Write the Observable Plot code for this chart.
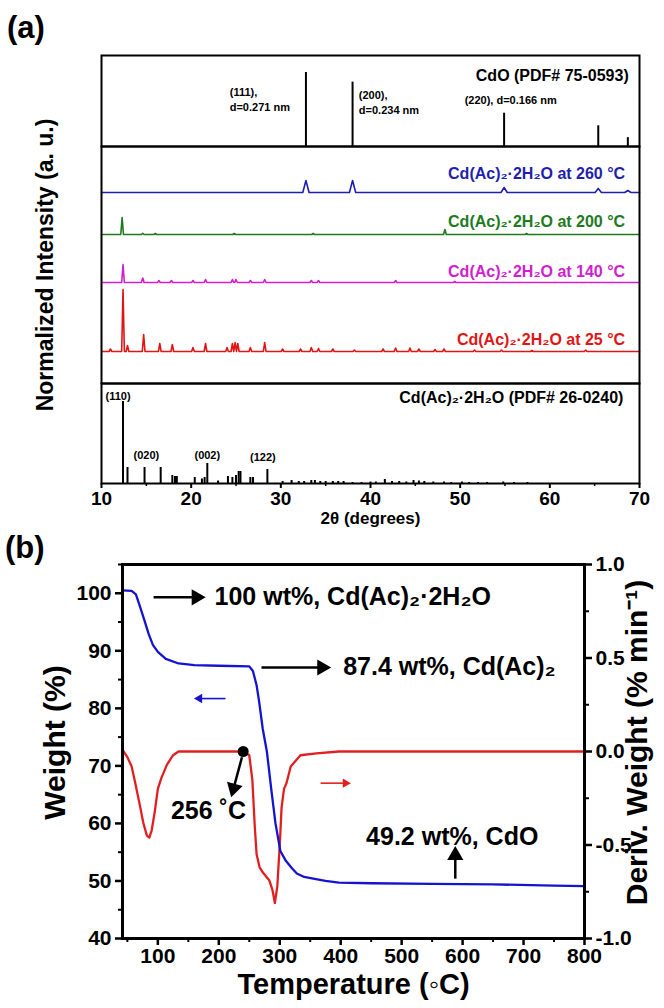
<!DOCTYPE html>
<html><head><meta charset="utf-8">
<script src="https://cdn.jsdelivr.net/npm/d3@7"></script>
<script src="https://cdn.jsdelivr.net/npm/@observablehq/plot@0.6"></script>
<style>
body{margin:0;background:#fff;}
#root{position:relative;width:664px;height:1008px;font-family:"Liberation Sans",Arial,sans-serif;font-weight:bold;overflow:hidden;}
.abs{position:absolute;left:0;}
svg{overflow:visible;}
.plab{position:absolute;font-size:31px;font-weight:bold;}
</style></head><body><div id="root"></div>
<script>
// ---------------- Panel (a): XRD ----------------
const xrdDomain = [10, 70];
const xrdTicks = [10, 20, 30, 40, 50, 60, 70];
const xrdMinor = [15, 25, 35, 45, 55, 65];

// CdO reference (PDF# 75-0593)
const cdoPos = [32.8, 38.0, 54.9, 65.4, 68.7];
const cdoInt = [100, 87, 45, 28, 12];
const cdoText = ["(111),", "d=0.271 nm", "(200),", "d=0.234 nm", "(220), d=0.166 nm"];
const cdoTextX = [24.3, 24.3, 38.7, 38.7, 50.5];
const cdoTextY = [73, 53, 69, 49, 62];
const cdoTitle = "CdO (PDF# 75-0593)";

// measured traces (peak position, height above baseline, a.u.)
const traceNames = ["Cd(Ac)₂·2H₂O at 260 °C", "Cd(Ac)₂·2H₂O at 200 °C", "Cd(Ac)₂·2H₂O at 140 °C", "Cd(Ac)₂·2H₂O at 25 °C"];
const traceColors = ["#1f1fb0", "#1e7a1e", "#d01fd0", "#e01515"];
const traceOffset = [191, 149, 101, 32];
const traceLabelY = [210, 162, 112, 44];
const peaks260Pos = [32.8, 38.0, 54.9, 65.4, 68.7];
const peaks260Int = [12, 12, 5, 4, 2];
const peaks200Pos = [12.3, 14.6, 16.0, 24.8, 33.6, 48.3, 57.4];
const peaks200Int = [17, 1.2, 1, 1, 1, 5, 1];
const peaks140Pos = [12.4, 14.6, 16.4, 17.8, 20.2, 21.6, 24.6, 25.0, 26.6, 28.2, 33.4, 34.2, 42.8, 49.4];
const peaks140Int = [18, 4.5, 2, 2, 2, 3, 3, 3, 2, 3, 2, 2, 2, 1];
const peaks25Pos = [11.0, 12.4, 12.9, 14.7, 16.5, 17.9, 20.2, 21.6, 24.0, 24.6, 24.9, 25.2, 26.6, 28.2, 30.2, 32.2, 33.4, 34.2, 35.8, 38.2, 41.4, 42.8, 44.4, 45.4, 47.2, 48.2, 51.6, 54.6, 58.0, 64.0];
const peaks25Int = [2.5, 62, 6, 17, 8, 7, 4, 8, 4, 8, 9, 8, 4, 9, 2.5, 2.5, 4, 3, 2.5, 1.5, 2.5, 3.5, 3.5, 2.5, 2, 2.5, 1.5, 1.5, 1, 1.5];

// Cd(Ac)2·2H2O reference (PDF# 26-0240)
const acPos = [12.4, 12.9, 14.8, 16.6, 17.9, 18.2, 18.4, 20.4, 21.2, 21.5, 21.8, 23.0, 24.1, 24.6, 25.0, 25.3, 25.5, 26.6, 26.9, 28.5,
  30.2, 31.2, 32.0, 32.6, 33.4, 33.8, 34.4, 35.0, 35.8, 36.4, 37.0, 38.0, 39.0, 40.0, 40.6, 41.6, 42.4, 43.2, 44.0, 44.8, 45.4, 46.0, 47.0, 48.2, 49.0, 50.2, 51.0, 52.0, 53.0, 54.8, 56.0, 57.5];
const acInt = [82, 16, 16, 16, 8, 7, 7, 6, 4.5, 6, 20, 2.5, 7, 6, 8, 12, 12, 6, 6, 14,
  2, 3, 2, 2, 3, 3, 2, 2, 2, 2, 2, 1, 1, 1.5, 1.5, 4, 2, 2, 1.5, 3, 2.5, 2, 1.5, 1.5, 1, 1.5, 1, 1, 1, 1.5, 1, 1];
const acText = ["(110)", "(020)", "(002)", "(122)"];
const acTextX = [11.85, 15.0, 21.8, 28.0];
const acTextY = [87, 28, 28, 26];
const acTitle = "Cd(Ac)₂·2H₂O (PDF# 26-0240)";

// ---------------- Panel (b): TGA / DTG ----------------
const tempDomain = [42, 800];
const tempTicks = [100, 200, 300, 400, 500, 600, 700, 800];
const tempMinor = [50, 150, 250, 350, 450, 550, 650, 750];
const weightDomain = [40, 105];
const weightTicks = [40, 50, 60, 70, 80, 90, 100];
const weightMinor = [45, 55, 65, 75, 85, 95, 105];
const derivDomain = [-1, 1];
const derivTicks = [-1, -0.5, 0, 0.5, 1];
const derivMinor = [-0.75, -0.25, 0.25, 0.75];

const tgaT = [42, 57, 64, 71, 78, 85, 92, 100, 113, 134, 160, 200, 250, 256, 262, 266, 272, 279, 286, 293, 301, 310, 320, 328, 340, 355, 375, 397, 450, 550, 650, 750, 800];
const tgaW = [100.5, 100.4, 99.8, 97.6, 95.3, 92.9, 91.0, 89.8, 88.6, 87.8, 87.5, 87.4, 87.3, 86.5, 84.0, 81.3, 76.5, 72.4, 66.0, 60.0, 55.2, 53.5, 52.2, 51.3, 50.7, 50.4, 50.0, 49.7, 49.6, 49.5, 49.4, 49.2, 49.1];

const dtgT = [42, 50, 57, 63, 70, 76, 82, 86, 90, 95, 100, 106, 115, 125, 134, 160, 200, 240, 250, 255, 259, 262, 267, 273, 283, 288, 292, 296, 300, 303, 307, 311, 318, 334, 360, 397, 450, 500, 600, 700, 800];
const dtgD = [0.01, -0.03, -0.08, -0.17, -0.28, -0.38, -0.45, -0.46, -0.42, -0.32, -0.2, -0.14, -0.07, -0.02, 0.0, 0.0, 0.0, 0.0, -0.02, -0.15, -0.4, -0.55, -0.62, -0.65, -0.69, -0.74, -0.81, -0.72, -0.5, -0.3, -0.2, -0.17, -0.08, -0.02, -0.01, 0.0, 0.0, 0.0, 0.0, 0.0, 0.0];

// annotations (data coordinates: temperature, weight %)
const annLeftText = ["100 wt%, Cd(Ac)₂·2H₂O", "87.4 wt%, Cd(Ac)₂"];
const annLeftT = [193, 404];
const annLeftW = [99.3, 87.1];
const annMidText = ["256 ˚C", "49.2 wt%, CdO"];
const annMidT = [183, 583];
const annMidW = [62.2, 57.6];
const arrowX1 = [93, 270, 238, 588, 211, 367];
const arrowY1 = [99.3, 87.1, 71.5, 50.4, 81.7, 67.0];
const arrowX2 = [172, 378, 222, 588, 163, 413];
const arrowY2 = [99.3, 87.1, 65.2, 55.4, 81.7, 67.0];
const arrowColor = ["black", "black", "black", "black", "#1414d0", "#e02020"];
const arrowWidth = [2.5, 2.5, 2.5, 2.5, 1.6, 1.6];
const arrowHead = [6, 6, 6, 6, 3.5, 3.5];
const onsetT = [240];
const onsetD = [0.0];

// ---------------- build ----------------
const root = document.getElementById("root");
function place(el, top) { const d = document.createElement("div"); d.className = "abs"; d.style.top = top + "px"; d.appendChild(el); root.appendChild(d); }
function label(txt, left, top) { const d = document.createElement("div"); d.className = "plab"; d.style.left = left + "px"; d.style.top = top + "px"; d.textContent = txt; root.appendChild(d); }
const fontA = {fontFamily: "'Liberation Sans', Arial, sans-serif", fontWeight: "bold", fontSize: "15px", color: "black", background: "transparent"};

// top reference
const cdo = cdoPos.map((x, i) => ({x, y: cdoInt[i]}));
place(Plot.plot({
  width: 664, height: 101, marginLeft: 101, marginRight: 25, marginTop: 5, marginBottom: 5,
  x: {domain: xrdDomain, axis: null}, y: {domain: [0, 123], axis: null}, style: fontA,
  marks: [
    Plot.ruleX(cdo, {x: "x", y1: 0, y2: "y", stroke: "black", strokeWidth: 2}),
    Plot.text(cdoText, {x: (d, i) => cdoTextX[i], y: (d, i) => cdoTextY[i], text: d => d, textAnchor: "start", fontSize: 11}),
    Plot.text([cdoTitle], {x: 68.8, y: 96, text: d => d, textAnchor: "end", fontSize: 16}),
    Plot.frame({strokeWidth: 2})
  ]
}), 50);

// measured traces
const allPos = [peaks260Pos, peaks200Pos, peaks140Pos, peaks25Pos];
const allInt = [peaks260Int, peaks200Int, peaks140Int, peaks25Int];
const halfW = [0.35, 0.15, 0.15, 0.15];
const traceRows = [];
allPos.forEach((pos, k) => {
  const off = traceOffset[k];
  traceRows.push({k, x: xrdDomain[0], y: off});
  pos.forEach((p, j) => {
    traceRows.push({k, x: p - halfW[k], y: off});
    traceRows.push({k, x: p, y: off + allInt[k][j]});
    traceRows.push({k, x: p + halfW[k], y: off});
  });
  traceRows.push({k, x: xrdDomain[1], y: off});
});
place(Plot.plot({
  width: 664, height: 247, marginLeft: 101, marginRight: 25, marginTop: 5, marginBottom: 5,
  x: {domain: xrdDomain, axis: null}, y: {domain: [0, 237], axis: null}, style: fontA,
  color: {domain: [0, 1, 2, 3], range: traceColors, type: "ordinal"},
  marks: [
    Plot.line(traceRows, {x: "x", y: "y", z: "k", stroke: "k", strokeWidth: 1.6}),
    Plot.text(traceNames, {x: 68.4, y: (d, i) => traceLabelY[i], text: d => d, fill: (d, i) => i, textAnchor: "end", fontSize: 16}),
    Plot.text(["Normalized Intensity (a. u.)"], {frameAnchor: "left", dx: -56, rotate: -90, textAnchor: "middle", text: d => d, fontSize: 23}),
    Plot.frame({strokeWidth: 2})
  ]
}), 141);

// bottom reference with x axis
const ac = acPos.map((x, i) => ({x, y: acInt[i]}));
place(Plot.plot({
  width: 664, height: 155, marginLeft: 101, marginRight: 25, marginTop: 5, marginBottom: 50,
  x: {domain: xrdDomain}, y: {domain: [0, 100], axis: null}, style: fontA,
  marks: [
    Plot.ruleX(ac, {x: "x", y1: 0, y2: "y", stroke: "black", strokeWidth: 2}),
    Plot.text(acText, {x: (d, i) => acTextX[i], y: (d, i) => acTextY[i], text: d => d, fontSize: 11}),
    Plot.text([acTitle], {x: 68.2, y: 86, text: d => d, textAnchor: "end", fontSize: 16}),
    Plot.axisX(xrdMinor, {tickSize: 3, tickFormat: () => "", strokeWidth: 1.5, label: null}),
    Plot.axisX(xrdTicks, {tickSize: 5, tickPadding: 3, strokeWidth: 2, fontSize: 19, label: null}),
    Plot.text(["2θ (degrees)"], {frameAnchor: "bottom", dy: 40, text: d => d, fontSize: 17}),
    Plot.frame({strokeWidth: 2})
  ]
}), 378);

label("(a)", 7, 10);
label("(b)", 5, 530);

// panel (b)
const mB = {left: 122, right: 80, top: 24, bottom: 70, width: 664, height: 468};
const toW = d => weightDomain[0] + (d - derivDomain[0]) / (derivDomain[1] - derivDomain[0]) * (weightDomain[1] - weightDomain[0]);
const fromW = w => derivDomain[0] + (w - weightDomain[0]) / (weightDomain[1] - weightDomain[0]) * (derivDomain[1] - derivDomain[0]);
const pxX = (mB.width - mB.left - mB.right) / (tempDomain[1] - tempDomain[0]);
const pxY = (mB.height - mB.top - mB.bottom) / (weightDomain[1] - weightDomain[0]);
const tga = tgaT.map((t, i) => ({t, w: tgaW[i]}));
const dtg = dtgT.map((t, i) => ({t, w: toW(dtgD[i])}));
// arrow shafts end behind a filled triangular head
const arrows = arrowX1.map((x1, i) => {
  const x2 = arrowX2[i], y1 = arrowY1[i], y2 = arrowY2[i];
  const sx = (x2 - x1) * pxX, sy = -(y2 - y1) * pxY, len = Math.hypot(sx, sy);
  const ux = sx / len, uy = sy / len, h = arrowHead[i];
  return {
    x1, y1, c: arrowColor[i], sw: arrowWidth[i], r: h,
    lx2: x2 - (h * 1.2) * ux / pxX, ly2: y2 + (h * 1.2) * uy / pxY,
    hx: x2 - (h * 0.9) * ux / pxX, hy: y2 + (h * 0.9) * uy / pxY,
    rot: Math.atan2(ux, -uy) * 180 / Math.PI
  };
});
const fmt1 = v => d3.format(".1f")(v).replace("−", "-");
const fontB = {fontFamily: "'Liberation Sans', Arial, sans-serif", fontWeight: "bold", fontSize: "21px", color: "black", background: "transparent"};
place(Plot.plot({
  width: mB.width, height: mB.height, marginLeft: mB.left, marginRight: mB.right, marginTop: mB.top, marginBottom: mB.bottom,
  x: {domain: tempDomain}, y: {domain: weightDomain}, r: {type: "identity"}, style: fontB,
  marks: [
    Plot.line(dtg, {x: "t", y: "w", stroke: "#e02020", strokeWidth: 2.3}),
    Plot.line(tga, {x: "t", y: "w", stroke: "#1414d0", strokeWidth: 2.3}),
    Plot.dot(onsetT, {x: d => d, y: (d, i) => toW(onsetD[i]), r: 5.5, fill: "black"}),
    Plot.link(arrows, {x1: "x1", y1: "y1", x2: "lx2", y2: "ly2", stroke: "c", strokeWidth: "sw"}),
    Plot.dot(arrows, {x: "hx", y: "hy", r: "r", symbol: "triangle", rotate: "rot", fill: "c", stroke: null}),
    Plot.text(annLeftText, {x: (d, i) => annLeftT[i], y: (d, i) => annLeftW[i], text: d => d, textAnchor: "start", fontSize: 25}),
    Plot.text(annMidText, {x: (d, i) => annMidT[i], y: (d, i) => annMidW[i], text: d => d, textAnchor: "middle", fontSize: 25}),
    Plot.axisX(tempMinor, {tickSize: 4, tickFormat: () => "", strokeWidth: 2, label: null}),
    Plot.axisX(tempTicks, {tickSize: 7, tickPadding: 3, strokeWidth: 2.5, label: null}),
    Plot.axisY(weightMinor, {anchor: "left", tickSize: 4, tickFormat: () => "", strokeWidth: 2, label: null}),
    Plot.axisY(weightTicks, {anchor: "left", tickSize: 7, tickPadding: 4, strokeWidth: 2.5, label: null}),
    Plot.axisY(derivMinor.map(toW), {anchor: "right", tickSize: 4, tickFormat: () => "", strokeWidth: 2, label: null}),
    Plot.axisY(derivTicks.map(toW), {anchor: "right", tickSize: 7, tickPadding: 4, strokeWidth: 2.5, tickFormat: w => fmt1(fromW(w)), label: null}),
    Plot.text(["Weight (%)"], {frameAnchor: "left", dx: -67, dy: -9, rotate: -90, textAnchor: "middle", text: d => d, fontSize: 30}),
    Plot.text(["Deriv. Weight (% min⁻¹)"], {frameAnchor: "right", dx: 53, dy: -9, rotate: -90, textAnchor: "middle", text: d => d, fontSize: 30}),
    Plot.text(["Temperature (◦C)"], {frameAnchor: "bottom", dy: 55, text: d => d, fontSize: 29}),
    Plot.frame({strokeWidth: 3})
  ]
}), 540);
</script>
</body></html>
